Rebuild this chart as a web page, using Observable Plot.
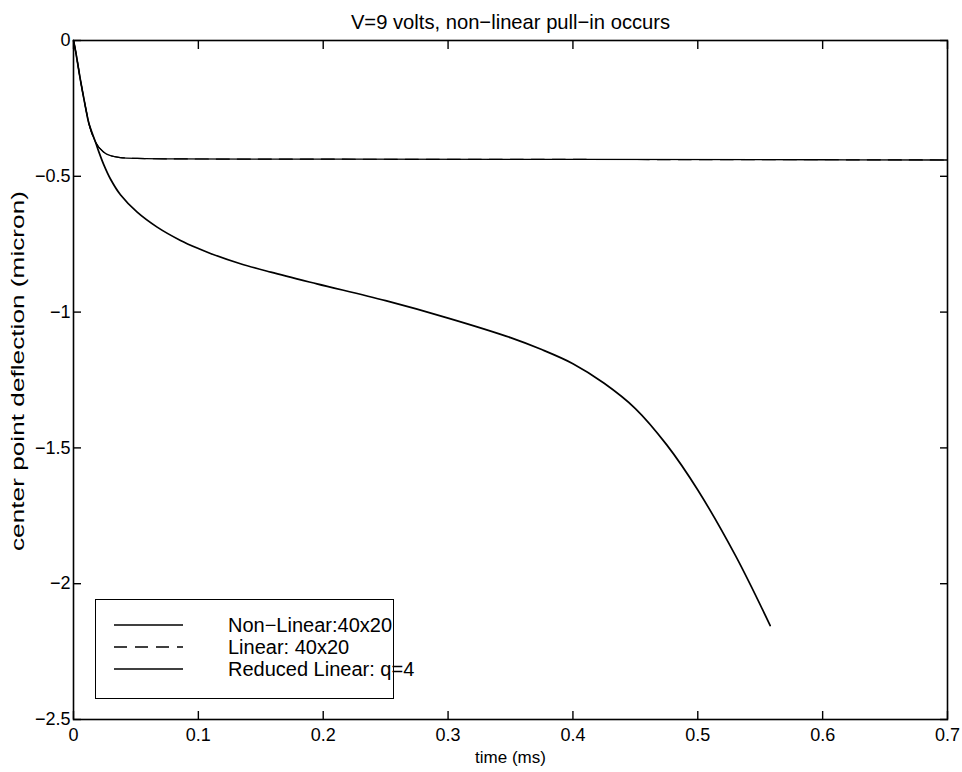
<!DOCTYPE html>
<html>
<head>
<meta charset="utf-8">
<script src="https://cdn.jsdelivr.net/npm/d3@7"></script>
<script src="https://cdn.jsdelivr.net/npm/@observablehq/plot@0.6"></script>
<style>
  body { margin: 0; background: #fff; }
  #wrap { position: relative; width: 962px; height: 772px; font-family: "Liberation Sans", Arial, Helvetica, sans-serif; }
  #legend { position: absolute; left: 95px; top: 599px; width: 299px; height: 100px; border: 1.6px solid #000; background: #fff; box-sizing: border-box; }
  #legend .row { position: absolute; left: 0; height: 22px; width: 100%; }
  #legend svg { position: absolute; left: 17px; top: 0; }
  #legend span { position: absolute; left: 132px; top: 0; font-size: 20px; line-height: 22px; color: #000; white-space: nowrap; }
</style>
</head>
<body>
<div id="wrap"></div>
<script>
// ---- data ----
const title = "V=9 volts, non−linear pull−in occurs";
const xLabel = "time (ms)";
const yLabel = "center point deflection (micron)";
const xTicks = [0, 0.1, 0.2, 0.3, 0.4, 0.5, 0.6, 0.7];
const yTicks = [0, -0.5, -1, -1.5, -2, -2.5];
const legendLabels = ["Non−Linear:40x20", "Linear: 40x20", "Reduced Linear: q=4"];

// Non-linear 40x20 (pull-in)
const nonLinearT = [0, 0.0016, 0.0056, 0.0096, 0.0123, 0.0176, 0.0203, 0.0243, 0.0296, 0.0376, 0.051, 0.067, 0.0857, 0.1, 0.1097, 0.1337, 0.158, 0.195, 0.25, 0.30, 0.35, 0.375, 0.40, 0.425, 0.45, 0.475, 0.50, 0.53, 0.558];
const nonLinearV = [0, -0.037, -0.147, -0.245, -0.305, -0.374, -0.410, -0.458, -0.510, -0.568, -0.632, -0.687, -0.736, -0.766, -0.784, -0.822, -0.853, -0.896, -0.958, -1.022, -1.094, -1.138, -1.190, -1.262, -1.355, -1.488, -1.655, -1.895, -2.154];

// Linear 40x20
const linearT = [0, 0.0016, 0.0056, 0.0096, 0.0123, 0.0176, 0.0243, 0.0296, 0.0376, 0.051, 0.08, 0.2, 0.4, 0.6, 0.7];
const linearV = [0, -0.037, -0.147, -0.245, -0.305, -0.374, -0.411, -0.424, -0.431, -0.434, -0.436, -0.437, -0.438, -0.439, -0.440];

// Reduced linear q=4 (coincides with the linear curve)
const reducedT = [0, 0.0016, 0.0056, 0.0096, 0.0123, 0.0176, 0.0243, 0.0296, 0.0376, 0.051, 0.08, 0.2, 0.4, 0.6, 0.7];
const reducedV = [0, -0.037, -0.147, -0.245, -0.305, -0.374, -0.411, -0.424, -0.431, -0.434, -0.436, -0.437, -0.438, -0.439, -0.440];

const toRows = (ts, vs) => ts.map((t, i) => ({t, v: vs[i]}));
const nonLinear = toRows(nonLinearT, nonLinearV);
const linear = toRows(linearT, linearV);
const reduced = toRows(reducedT, reducedV);

const fmtX = d => d === 0 ? "0" : String(d);
const fmtY = d => d === 0 ? "0" : "−" + String(Math.abs(d));

const chart = Plot.plot({
  width: 962,
  height: 772,
  marginTop: 40,
  marginLeft: 73,
  marginRight: 15,
  marginBottom: 53,
  style: { fontFamily: '"Liberation Sans", Arial, Helvetica, sans-serif', fontSize: "18px", background: "#fff", color: "#000" },
  x: { domain: [0, 0.7] },
  y: { domain: [-2.5, 0] },
  marks: [
    Plot.axisX(xTicks, { anchor: "bottom", tickSize: -8, tickPadding: 17, tickFormat: fmtX, label: null, strokeWidth: 1.4 }),
    Plot.axisX(xTicks, { anchor: "top", tickSize: -8, tickFormat: () => "", label: null, strokeWidth: 1.4 }),
    Plot.axisY(yTicks, { anchor: "left", tickSize: -8, tickPadding: 11, tickFormat: fmtY, label: null, strokeWidth: 1.4 }),
    Plot.axisY(yTicks, { anchor: "right", tickSize: -8, tickFormat: () => "", label: null, strokeWidth: 1.4 }),
    Plot.line(linear, { x: "t", y: "v", stroke: "#000", strokeWidth: 1.2, strokeDasharray: "13,8", curve: "monotone-x" }),
    Plot.line(reduced, { x: "t", y: "v", stroke: "#000", strokeWidth: 1.3, curve: "monotone-x" }),
    Plot.line(nonLinear, { x: "t", y: "v", stroke: "#000", strokeWidth: 1.7, curve: "catmull-rom" }),
    Plot.frame({ stroke: "#000", strokeWidth: 1.6 }),
    Plot.text([title], { frameAnchor: "top", lineAnchor: "bottom", dy: -12, fontSize: 20.2 }),
    Plot.text([xLabel], { frameAnchor: "bottom", lineAnchor: "middle", dy: 38, fontSize: 17 }),
    Plot.text([yLabel], { frameAnchor: "left", textAnchor: "middle", lineAnchor: "middle", rotate: -90, dx: -56, dy: -9, fontSize: 19, className: "ylab" })
  ]
});

// stretch the rotated y label along its length, as in the reference
d3.select(chart).selectAll(".ylab text")
  .attr("textLength", 360)
  .attr("lengthAdjust", "spacingAndGlyphs");

const wrap = document.getElementById("wrap");
wrap.appendChild(chart);

// legend (inside the plot area, bottom-left)
const legend = document.createElement("div");
legend.id = "legend";
const dashes = [null, "13,8", null];
const rowTops = [14, 36, 58];
legendLabels.forEach((lab, i) => {
  const row = document.createElement("div");
  row.className = "row";
  row.style.top = rowTops[i] + "px";
  const svg = d3.create("svg").attr("width", 72).attr("height", 22);
  svg.append("line").attr("x1", 1).attr("x2", 70).attr("y1", 11).attr("y2", 11)
    .attr("stroke", "#000").attr("stroke-width", 1.3)
    .attr("stroke-dasharray", dashes[i]);
  row.appendChild(svg.node());
  const span = document.createElement("span");
  span.textContent = lab;
  row.appendChild(span);
  legend.appendChild(row);
});
wrap.appendChild(legend);
</script>
</body>
</html>
